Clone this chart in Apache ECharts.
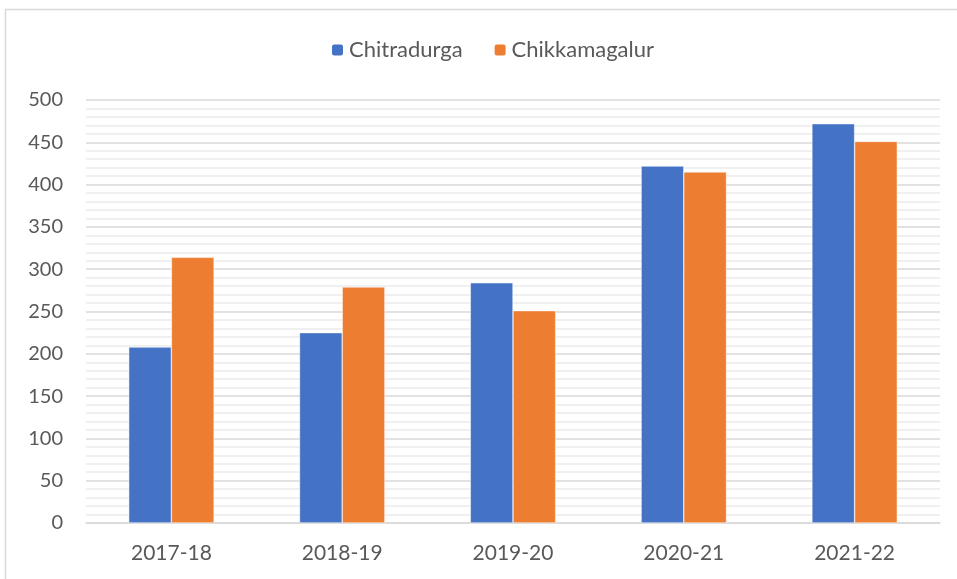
<!DOCTYPE html>
<html>
<head>
<meta charset="utf-8">
<script src="https://cdn.jsdelivr.net/npm/echarts@6/dist/echarts.min.js"></script>
<style>
  html, body { margin: 0; padding: 0; background: #fff; }
  #chart { width: 957px; height: 579px; }
</style>
</head>
<body>
<div id="chart"></div>
<script>
// categories and values
var years = ['2017-18', '2018-19', '2019-20', '2020-21', '2021-22'];
var chitradurga = [208, 225, 284, 422, 472];
var chikkamagalur = [314, 279, 251, 415, 451];

var chart = echarts.init(document.getElementById('chart'));

var option = {
    textStyle: { fontFamily: 'Lato, sans-serif' },
    graphic: [{
        type: 'rect',
        shape: { x: 5.5, y: 9.5, width: 1000, height: 1000 },
        style: { fill: 'none', stroke: '#d9d9d9', lineWidth: 1.5 },
        silent: true
    }],
    legend: {
        top: 34,
        left: 325,
        itemWidth: 13,
        itemHeight: 13,
        itemGap: 30,
        textStyle: { fontSize: 22, color: '#595959' },
        data: ['Chitradurga', 'Chikkamagalur']
    },
    grid: { left: 86, right: 17, top: 100, bottom: 56 },
    xAxis: {
        type: 'category',
        data: years,
        axisTick: { show: false },
        axisLine: { lineStyle: { color: '#d9d9d9', width: 1.5 } },
        axisLabel: { fontSize: 21, color: '#595959', margin: 20 }
    },
    yAxis: {
        type: 'value',
        min: 0,
        max: 500,
        interval: 50,
        axisLine: { show: false },
        axisTick: { show: false },
        axisLabel: { fontSize: 20, color: '#595959', margin: 23 },
        splitLine: { lineStyle: { color: '#d9d9d9', width: 1.5 } },
        minorTick: { show: false, splitNumber: 5 },
        minorSplitLine: { show: true, lineStyle: { color: '#f0f0f0', width: 2 } }
    },
    series: [
        {
            name: 'Chitradurga',
            type: 'bar',
            barWidth: '25%',
            barGap: '0%',
            itemStyle: { color: '#4472C4', borderColor: '#ffffff', borderWidth: 0.5 },
            data: chitradurga
        },
        {
            name: 'Chikkamagalur',
            type: 'bar',
            barWidth: '25%',
            itemStyle: { color: '#ED7D31', borderColor: '#ffffff', borderWidth: 0.5 },
            data: chikkamagalur
        }
    ]
};

chart.setOption(option);
</script>
</body>
</html>
